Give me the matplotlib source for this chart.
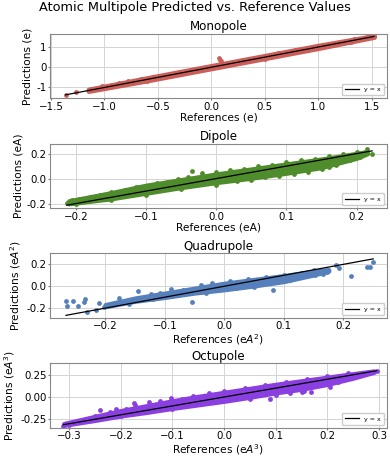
import matplotlib
matplotlib.use('Agg')
import matplotlib.pyplot as plt

titles = ['Monopole', 'Dipole', 'Quadrupole', 'Octupole']
units = ['e', 'eA', 'e$A^2$', 'e$A^3$']
colors = ['#cb5e58', '#4f8c2b', '#5580bb', '#8a3fe0']

# sparse points (edges of the dense cloud + outliers)
mono_ref = [-1.364, -1.268, -1.13, -1.02, -0.93, -0.86, -0.78, -0.66, -0.55, -0.42, -0.3, -0.18,
            -0.05, 0.075, 0.08, 0.085, 0.09, 0.2, 0.32, 0.45, 0.62, 0.78, 0.9, 1.05, 1.2, 1.33,
            1.45, 1.52, 0.5, 0.9, -0.6, 1.3]
mono_pred = [-1.35, -1.23, -1.1, -0.95, -0.86, -0.8, -0.7, -0.6, -0.48, -0.36, -0.25, -0.12,
             0.02, 0.45, 0.38, 0.3, 0.22, 0.26, 0.38, 0.5, 0.69, 0.84, 0.95, 1.1, 1.25, 1.38,
             1.5, 1.54, 0.43, 0.83, -0.67, 1.24]
# dense core of the cloud
mono_bx = [-1.15, -0.6, 0.0, 0.6, 1.0, 1.52]
mono_lo = [-1.18, -0.66, -0.06, 0.54, 0.94, 1.49]
mono_hi = [-1.1, -0.53, 0.07, 0.67, 1.07, 1.55]

dip_ref = [-0.213, -0.205, -0.195, -0.18, -0.165, -0.15, -0.13, -0.115, -0.1, -0.085, -0.07,
           -0.055, -0.04, -0.035, -0.02, 0.0, 0.02, 0.04, 0.06, 0.08, 0.1, 0.12, 0.14, 0.16,
           0.18, 0.2, 0.215, 0.222, 0.0, 0.03, 0.05, 0.07, 0.09, 0.11, 0.13, 0.15, 0.161, 0.17,
           0.19, 0.205, -0.2, -0.15, -0.1, -0.05]
dip_pred = [-0.195, -0.17, -0.16, -0.15, -0.13, -0.11, -0.09, -0.065, -0.06, -0.035, -0.03,
            -0.005, 0.01, 0.06, 0.045, 0.055, 0.07, 0.08, 0.1, 0.11, 0.13, 0.145, 0.16, 0.18,
            0.195, 0.21, 0.235, 0.195, -0.05, -0.02, -0.01, 0.015, 0.02, 0.04, 0.05, 0.08, 0.09,
            0.11, 0.15, 0.17, -0.205, -0.175, -0.13, -0.085]
dip_bx = [-0.21, -0.15, -0.1, -0.05, 0.0, 0.05, 0.1, 0.15, 0.2, 0.215]
dip_lo = [-0.2, -0.16, -0.115, -0.07, -0.03, 0.005, 0.045, 0.09, 0.165, 0.2]
dip_hi = [-0.18, -0.115, -0.055, -0.01, 0.035, 0.075, 0.115, 0.155, 0.2, 0.215]

quad_ref = [-0.266, -0.264, -0.254, -0.246, -0.235, -0.234, -0.23, -0.216, -0.21, -0.203,
            -0.177, -0.145, -0.123, -0.108, -0.09, -0.07, -0.04, -0.02, 0.01, 0.04, 0.07, 0.1,
            0.13, 0.15, -0.16, -0.12, -0.055, -0.03, 0.02, 0.05, 0.073, 0.081, 0.11, 0.152,
            0.166, 0.173, 0.187, 0.193, 0.213, 0.239, 0.244, 0.25]
quad_pred = [-0.134, -0.179, -0.134, -0.182, -0.148, -0.118, -0.24, -0.218, -0.152, -0.194,
             -0.112, -0.048, -0.067, -0.061, -0.021, -0.03, 0.01, 0.03, 0.05, 0.065, 0.08, 0.1,
             0.125, 0.15, -0.16, -0.12, -0.143, -0.06, -0.02, -0.005, 0.025, -0.03, 0.06, 0.1,
             0.115, 0.13, 0.19, 0.17, 0.09, 0.175, 0.175, 0.22]
quad_bx = [-0.2, -0.15, -0.1, -0.05, 0.0, 0.05, 0.1, 0.15, 0.175]
quad_lo = [-0.185, -0.135, -0.1, -0.06, -0.03, 0.005, 0.045, 0.105, 0.14]
quad_hi = [-0.17, -0.11, -0.065, -0.02, 0.025, 0.06, 0.095, 0.135, 0.15]

oct_ref = [-0.311, -0.3, -0.29, -0.27, -0.24, -0.209, -0.173, -0.082, -0.25, -0.22, -0.19,
           -0.174, -0.146, -0.124, -0.102, -0.06, -0.03, 0.0, 0.04, 0.08, 0.12, 0.16, 0.2, 0.24,
           0.295, 0.05, 0.088, 0.1, 0.127, 0.15, 0.155, 0.168, 0.185, 0.204, 0.22, 0.25, -0.2,
           -0.1]
oct_pred = [-0.32, -0.31, -0.285, -0.27, -0.149, -0.13, -0.084, -0.018, -0.21, -0.17, -0.13,
            -0.065, -0.059, -0.048, -0.011, 0.01, 0.04, 0.07, 0.1, 0.13, 0.17, 0.2, 0.235, 0.265,
            0.297, -0.02, -0.022, 0.02, 0.043, 0.061, 0.07, 0.061, 0.134, 0.109, 0.17, 0.22,
            -0.215, -0.13]
oct_bx = [-0.31, -0.25, -0.2, -0.15, -0.1, -0.05, 0.0, 0.05, 0.1, 0.15, 0.2, 0.25, 0.29]
oct_lo = [-0.315, -0.26, -0.21, -0.17, -0.125, -0.085, -0.045, 0.0, 0.05, 0.09, 0.145, 0.215, 0.28]
oct_hi = [-0.3, -0.22, -0.155, -0.1, -0.045, 0.005, 0.05, 0.095, 0.14, 0.18, 0.22, 0.26, 0.29]

xlims = [(-1.51, 1.64), (-0.237, 0.243), (-0.293, 0.273), (-0.337, 0.315)]
ylims = [(-1.54, 1.65), (-0.237, 0.28), (-0.29, 0.30), (-0.345, 0.38)]
xticks = [[-1.5, -1.0, -0.5, 0.0, 0.5, 1.0, 1.5], [-0.2, -0.1, 0.0, 0.1, 0.2],
          [-0.2, -0.1, 0.0, 0.1, 0.2], [-0.3, -0.2, -0.1, 0.0, 0.1, 0.2, 0.3]]
yticks = [[-1, 0, 1], [-0.2, 0.0, 0.2], [-0.2, 0.0, 0.2], [-0.25, 0.0, 0.25]]
yfmt = ['{:.0f}', '{:.1f}', '{:.1f}', '{:.2f}']

refs = [mono_ref, dip_ref, quad_ref, oct_ref]
preds = [mono_pred, dip_pred, quad_pred, oct_pred]
bands = [(mono_bx, mono_lo, mono_hi), (dip_bx, dip_lo, dip_hi),
         (quad_bx, quad_lo, quad_hi), (oct_bx, oct_lo, oct_hi)]

fig, axes = plt.subplots(4, 1, figsize=(3.9, 4.57), dpi=100)
fig.subplots_adjust(left=0.128, right=0.992, top=0.926, bottom=0.064, hspace=0.70)
fig.suptitle('Atomic Multipole Predicted vs. Reference Values', fontsize=9.3, y=0.997, va='top')

for i, ax in enumerate(axes):
    c = colors[i]
    bx, lo, hi = bands[i]
    ax.fill_between(bx, lo, hi, facecolor=c, edgecolor=c, lw=3.4, joinstyle='round', zorder=2)
    ax.scatter(refs[i], preds[i], s=12, color=c, linewidths=0, zorder=2)
    lo_x = min(min(refs[i]), min(bx))
    hi_x = max(max(refs[i]), max(bx))
    ax.plot([lo_x, hi_x], [lo_x, hi_x], color='black', lw=0.9, label='y = x', zorder=3)

    ax.set_xlim(xlims[i])
    ax.set_ylim(ylims[i])
    ax.set_xticks(xticks[i])
    ax.set_yticks(yticks[i])
    ax.set_yticklabels([yfmt[i].format(v) for v in yticks[i]])
    ax.tick_params(labelsize=7.4, length=1.5, pad=1.0, color='#777777')
    ax.set_title(titles[i], fontsize=8.6, pad=2.5)
    ax.set_xlabel(f'References ({units[i]})', fontsize=7.7, labelpad=0.5)
    ax.set_ylabel(f'Predictions ({units[i]})', fontsize=7.7, labelpad=2.5)
    ax.grid(True, color='#d4d4d4', lw=0.7)
    ax.set_axisbelow(True)
    for s in ax.spines.values():
        s.set_color('#888888')
        s.set_linewidth(0.8)
    ax.legend(loc='lower right', fontsize=4.5, handlelength=2.2, borderpad=0.5,
              framealpha=1, edgecolor='#cccccc')

plt.savefig('out.png', dpi=100)
